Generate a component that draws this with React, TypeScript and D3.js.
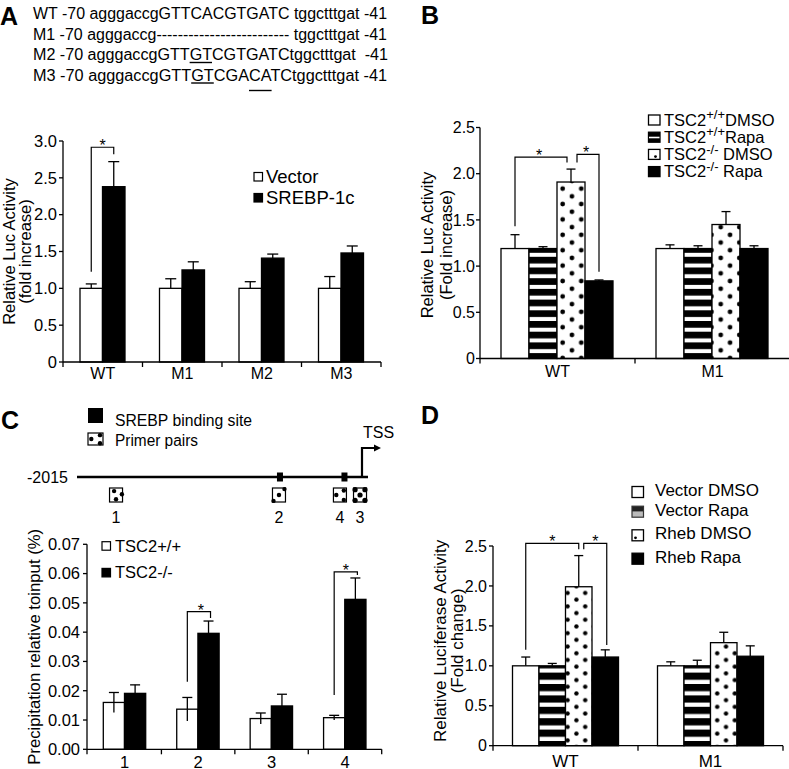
import React from 'react';
import * as d3 from 'd3';

const FONT = '"Liberation Sans", Arial, Helvetica, sans-serif';

// ---------------- Panel A data ----------------
const seqRows = [
  'WT -70 agggaccgGTTCACGTGATC tggctttgat -41',
  'M1 -70 agggaccg------------------------- tggctttgat -41',
  'M2 -70 agggaccgGTTGTCGTGATCtggctttgat  -41',
  'M3 -70 agggaccgGTTGTCGACATCtggctttgat -41',
];
// [row, first char, char count, level]
const seqUnderlines = [
  [2, 18, 2, 0],
  [3, 18, 2, 0],
  [3, 23, 2, 1],
];
const aCategories = ['WT', 'M1', 'M2', 'M3'];
const aSeries = ['Vector', 'SREBP-1c'];
const aVector = [1.0, 1.0, 1.0, 1.0];
const aVectorErr = [0.06, 0.13, 0.09, 0.16];
const aSrebp = [2.38, 1.25, 1.41, 1.48];
const aSrebpErr = [0.34, 0.11, 0.055, 0.095];
const aTicks = [0, 0.5, 1.0, 1.5, 2.0, 2.5, 3.0];

// ---------------- Panel B data ----------------
const bCategories = ['WT', 'M1'];
const bSeriesBase = ['TSC2', 'TSC2', 'TSC2', 'TSC2'];
const bSeriesSup = ['+/+', '+/+', '-/-', '-/-'];
const bSeriesTail = ['DMSO', 'Rapa', ' DMSO', ' Rapa'];
const bWildDmso = [1.19, 1.19];
const bWildRapa = [1.19, 1.19];
const bNullDmso = [1.91, 1.45];
const bNullRapa = [0.84, 1.19];
const bWildDmsoErr = [0.15, 0.04];
const bWildRapaErr = [0.02, 0.03];
const bNullDmsoErr = [0.14, 0.14];
const bNullRapaErr = [0.01, 0.03];
const bTicks = [0, 0.5, 1.0, 1.5, 2.0, 2.5];

// ---------------- Panel C data ----------------
const promoterStart = -2015;
const bindingSites = [-580, -124];
const primerLabels = ['1', '2', '4', '3'];
const primerPositions = [-1739, -587, -156, -14];
const cCategories = ['1', '2', '3', '4'];
const cSeries = ['TSC2+/+', 'TSC2-/-'];
const cWild = [0.0160, 0.0137, 0.0105, 0.0108];
const cWildErr = [0.0034, 0.0040, 0.0019, 0.0008];
const cNull = [0.0191, 0.0396, 0.0148, 0.0512];
const cNullErr = [0.0029, 0.0042, 0.0040, 0.0073];
const cTicks = [0, 0.01, 0.02, 0.03, 0.04, 0.05, 0.06, 0.07];

// ---------------- Panel D data ----------------
const dCategories = ['WT', 'M1'];
const dSeries = ['Vector DMSO', 'Vector Rapa', 'Rheb DMSO', 'Rheb Rapa'];
const dVecDmso = [1.0, 1.0];
const dVecRapa = [1.0, 1.0];
const dRhebDmso = [1.99, 1.29];
const dRhebRapa = [1.11, 1.12];
const dVecDmsoErr = [0.11, 0.05];
const dVecRapaErr = [0.03, 0.07];
const dRhebDmsoErr = [0.39, 0.13];
const dRhebRapaErr = [0.09, 0.13];
const dTicks = [0, 0.5, 1.0, 1.5, 2.0, 2.5];

// ---------------------------------------------------------
const fmt1 = (v: number) => (v === 0 ? '0' : d3.format('.1f')(v));
const fmt2 = d3.format('.2f');

function measure(text: string, size: number) {
  const ctx = document.createElement('canvas').getContext('2d');
  if (!ctx) return text.length * size * 0.55;
  ctx.font = `${size}px "Liberation Sans", Arial, sans-serif`;
  return ctx.measureText(text).width;
}

type Scales = {
  x: d3.ScaleBand<string>;
  xi: d3.ScaleBand<string>;
  y: d3.ScaleLinear<number, number>;
};

function barCenter(s: Scales, cat: string, k: number) {
  return (s.x(cat) as number) + (s.xi(String(k)) as number) + s.xi.bandwidth() / 2;
}

function Axes(props: {
  s: Scales; axisX: number; ticks: number[]; fmt: (v: number) => string;
  fontSize: number; labelGap: number; xLabelY: number; xFont: number;
}) {
  const { s, axisX, ticks, fmt, fontSize, labelGap, xLabelY, xFont } = props;
  const y0 = s.y(0);
  const yTop = s.y(ticks[ticks.length - 1]);
  const [, r1] = s.x.range();
  const bounds = s.x.domain().map((c) => s.x(c) as number).concat([r1]);
  return (
    <g stroke="#000" fill="none" strokeWidth={1.3}>
      <line x1={axisX} x2={axisX} y1={yTop} y2={y0 + 5} />
      <line x1={axisX} x2={r1} y1={y0} y2={y0} />
      {ticks.map((t) => (
        <g key={t}>
          <line x1={axisX - 4} x2={axisX} y1={s.y(t)} y2={s.y(t)} />
          <text x={axisX - labelGap} y={s.y(t)} dy="0.35em" textAnchor="end" stroke="none" fill="#000"
            fontSize={fontSize} fontFamily={FONT}>{fmt(t)}</text>
        </g>
      ))}
      {bounds.filter((b) => Math.abs(b - axisX) > 2).map((b, i) => (
        <line key={i} x1={b} x2={b} y1={y0} y2={y0 + 5} />
      ))}
      {s.x.domain().map((c) => (
        <text key={c} x={(s.x(c) as number) + s.x.bandwidth() / 2} y={xLabelY} textAnchor="middle"
          stroke="none" fill="#000" fontSize={xFont} fontFamily={FONT}>{c}</text>
      ))}
    </g>
  );
}

function BarsLayer(props: {
  s: Scales; series: number[][]; errs: number[][]; fills: string[]; capW: number; lower: boolean;
}) {
  const { s, series, errs, fills, capW, lower } = props;
  const cats = s.x.domain();
  const y0 = s.y(0);
  return (
    <g>
      {series.map((vals, k) =>
        vals.map((v, i) => {
          const cat = cats[i];
          const left = (s.x(cat) as number) + (s.xi(String(k)) as number);
          const w = s.xi.bandwidth();
          const cx = left + w / 2;
          const top = s.y(v);
          const eTop = s.y(v + errs[k][i]);
          const eBot = s.y(v - errs[k][i]);
          return (
            <g key={k + '-' + i}>
              <line x1={cx} x2={cx} y1={lower ? eBot : top} y2={eTop} stroke="#000" strokeWidth={1.3} />
              <line x1={cx - capW} x2={cx + capW} y1={eTop} y2={eTop} stroke="#000" strokeWidth={1.3} />
              {lower && <line x1={cx - capW} x2={cx + capW} y1={eBot} y2={eBot} stroke="#000" strokeWidth={1.3} />}
              <rect x={left} y={top} width={w} height={y0 - top} fill={fills[k]} stroke="#000" strokeWidth={1.3} />
              {lower && fills[k] === '#fff' && (
                <line x1={cx} x2={cx} y1={eBot} y2={top} stroke="#000" strokeWidth={1.3} />
              )}
            </g>
          );
        })
      )}
    </g>
  );
}

function Bracket(props: { x1: number; x2: number; yTop: number; yL: number; yR: number; starDx?: number }) {
  const { x1, x2, yTop, yL, yR } = props;
  const mid = (x1 + x2) / 2 + (props.starDx || 0);
  return (
    <g>
      <path d={`M${x1},${yL}V${yTop}H${x2}V${yR}`} fill="none" stroke="#000" strokeWidth={1.2} />
      <text x={mid} y={yTop + 4} textAnchor="middle" fontSize={16} fontFamily={FONT}>*</text>
    </g>
  );
}

function PanelA() {
  const seqX = 33;
  const seqBase = [19, 39.5, 60, 80.5];
  const seqFont = 16;
  const seqLen = [354, 354, 355, 354];
  const y = d3.scaleLinear().domain([0, 3]).range([362, 141]);
  const x = d3.scaleBand<string>().domain(aCategories).range([63, 381]);
  const xi = d3.scaleBand<string>().domain(['0', '1']).range([17, 62]);
  const s: Scales = { x, xi, y };
  const c0 = barCenter(s, 'WT', 0);
  const c1 = barCenter(s, 'WT', 1);
  return (
    <g>
      <text x={0} y={25} fontSize={25} fontWeight="bold" fontFamily={FONT}>A</text>
      {seqRows.map((r, i) => (
        <text key={i} x={seqX} y={seqBase[i]} fontSize={seqFont} fontFamily={FONT}
          textLength={seqLen[i]} lengthAdjust="spacingAndGlyphs" style={{ whiteSpace: 'pre' }}>{r}</text>
      ))}
      {seqUnderlines.map(([row, start, len, level], i) => {
        const text = seqRows[row];
        const full = measure(text, seqFont);
        const k = seqLen[row] / full;
        const xa = seqX + measure(text.slice(0, start), seqFont) * k;
        const xb = seqX + measure(text.slice(0, start + len), seqFont) * k;
        const yy = seqBase[row] + (level ? 10 : 2.5);
        return <line key={i} x1={xa} x2={xb} y1={yy} y2={yy} stroke="#000" strokeWidth={1.4} />;
      })}
      <text transform={`translate(15,${(y(0) + y(3)) / 2}) rotate(-90)`} textAnchor="middle" fontSize={16.5} fontFamily={FONT}>Relative Luc Activity</text>
      <text transform={`translate(31,${(y(0) + y(3)) / 2}) rotate(-90)`} textAnchor="middle" fontSize={16.5} fontFamily={FONT}>(fold increase)</text>
      <BarsLayer s={s} series={[aVector, aSrebp]} errs={[aVectorErr, aSrebpErr]} fills={['#fff', '#000']} capW={5.5} lower={false} />
      <Axes s={s} axisX={63} ticks={aTicks} fmt={fmt1} fontSize={16.5} labelGap={6} xLabelY={379} xFont={16} />
      <Bracket x1={c0} x2={c1} yTop={y(2.915)} yL={y(1.225)} yR={y(2.82)} />
      {aSeries.map((n, k) => (
        <g key={n}>
          <rect x={254} y={172.5 + k * 21} width={8.5} height={8.5} fill={k ? '#000' : '#fff'} stroke="#000" strokeWidth={1.2} />
          <text x={266} y={176.7 + k * 21} dy="0.35em" fontSize={18.5} fontFamily={FONT}>{n}</text>
        </g>
      ))}
    </g>
  );
}

function PanelB() {
  const y = d3.scaleLinear().domain([0, 2.5]).range([358.5, 127.5]);
  const x = d3.scaleBand<string>().domain(bCategories).range([480, 790]);
  const xi = d3.scaleBand<string>().domain(['0', '1', '2', '3']).range([21, 133]);
  const s: Scales = { x, xi, y };
  const fills = ['#fff', 'url(#stripeB)', 'url(#dotB)', '#000'];
  const c0 = barCenter(s, 'WT', 0);
  const c2 = barCenter(s, 'WT', 2);
  const c3 = barCenter(s, 'WT', 3);
  const mid = (y(0) + y(2.5)) / 2;
  return (
    <g>
      <text x={421} y={24} fontSize={25} fontWeight="bold" fontFamily={FONT}>B</text>
      <text transform={`translate(433,${mid + 2}) rotate(-90)`} textAnchor="middle" fontSize={16.5} fontFamily={FONT}>Relative Luc Activity</text>
      <text transform={`translate(452,${mid + 2}) rotate(-90)`} textAnchor="middle" fontSize={16.5} fontFamily={FONT}>(Fold increase)</text>
      <BarsLayer s={s} series={[bWildDmso, bWildRapa, bNullDmso, bNullRapa]}
        errs={[bWildDmsoErr, bWildRapaErr, bNullDmsoErr, bNullRapaErr]} fills={fills} capW={4.5} lower={false} />
      <Axes s={s} axisX={480} ticks={bTicks} fmt={fmt1} fontSize={16} labelGap={5} xLabelY={377} xFont={16} />
      <Bracket x1={c0} x2={c2 - 4} yTop={y(2.18)} yL={y(1.43)} yR={y(2.12)} starDx={-2} />
      <Bracket x1={c2 + 6} x2={c3} yTop={y(2.21)} yL={y(2.12)} yR={y(0.94)} starDx={-2} />
      {bSeriesBase.map((b, k) => {
        const yy = 120 + k * 17.2;
        return (
          <g key={k}>
            <rect x={648.5} y={yy - 5} width={11.5} height={10} fill={k === 3 ? '#000' : '#fff'} stroke="#000" strokeWidth={1.3} />
            {k === 1 && (<g><rect x={648.5} y={yy - 5} width={11.5} height={10} fill="#000" /><line x1={649} x2={659.5} y1={yy + 0.3} y2={yy + 0.3} stroke="#fff" strokeWidth={1.6} /></g>)}
            {k === 2 && <circle cx={655.5} cy={yy + 2.2} r={1.4} fill="#000" />}
            <text x={664} y={yy} dy="0.35em" fontSize={16.5} fontFamily={FONT}>
              {b}
              <tspan dy="-6.5" fontSize={13}>{bSeriesSup[k]}</tspan>
              <tspan dy="6.5" style={{ whiteSpace: 'pre' }}>{bSeriesTail[k]}</tspan>
            </text>
          </g>
        );
      })}
    </g>
  );
}

function PrimerBox(props: { cx: number; y: number; w: number; h: number; kind: number }) {
  const { cx, y, w, h, kind } = props;
  const x0 = cx - w / 2;
  const layouts = [
    [[0.35, 0.22], [0.5, 0.8], [0.95, 0.45]],
    [[0.5, 0.5], [0.08, 0.92], [0.92, 0.08]],
    [[0.22, 0.5], [0.8, 0.18], [0.8, 0.85]],
    [[0.12, 0.12], [0.88, 0.12], [0.12, 0.88], [0.88, 0.88], [0.5, 0.5]],
  ];
  return (
    <g>
      <rect x={x0} y={y} width={w} height={h} fill="#fff" stroke="#000" strokeWidth={1.2} />
      {layouts[kind].map(([px, py], i) => (
        <circle key={i} cx={x0 + px * w} cy={y + py * h} r={kind === 3 ? 2.6 : 2.2} fill="#000" />
      ))}
    </g>
  );
}

function PanelC() {
  const pos = d3.scaleLinear().domain([promoterStart, 0]).range([77, 362]);
  const lineY = 477;
  const y = d3.scaleLinear().domain([0, 0.07]).range([749.3, 544.3]);
  const x = d3.scaleBand<string>().domain(cCategories).range([88, 381.7]);
  const xi = d3.scaleBand<string>().domain(['0', '1']).range([15.3, 57.7]);
  const s: Scales = { x, xi, y };
  const kinds = [0, 1, 2, 3];
  const mid = (y(0) + y(0.07)) / 2;
  return (
    <g>
      <text x={1} y={429} fontSize={25} fontWeight="bold" fontFamily={FONT}>C</text>
      <rect x={88} y={408} width={15} height={15} fill="#000" />
      <text x={115} y={420} dy="0.35em" fontSize={16} fontFamily={FONT} textLength={137} lengthAdjust="spacingAndGlyphs">SREBP binding site</text>
      <PrimerBox cx={95.5} y={433} w={15} h={12} kind={2} />
      <text x={115} y={440} dy="0.35em" fontSize={16} fontFamily={FONT} textLength={83} lengthAdjust="spacingAndGlyphs">Primer pairs</text>
      <text x={27} y={lineY} dy="0.35em" fontSize={16} fontFamily={FONT}>{String(promoterStart)}</text>
      <line x1={pos(promoterStart)} x2={pos(0) + 6} y1={lineY} y2={lineY} stroke="#000" strokeWidth={2.7} />
      {bindingSites.map((b, i) => (
        <rect key={i} x={pos(b) - 3} y={lineY - 4.5} width={6} height={9} fill="#000" />
      ))}
      <path d={`M${pos(0)},${lineY}V448H376`} fill="none" stroke="#000" strokeWidth={2.2} />
      <path d={`M374,444.5L381,448L374,451.5Z`} fill="#000" />
      <text x={363} y={438} fontSize={16} fontFamily={FONT}>TSS</text>
      {primerPositions.map((p, i) => (
        <g key={i}>
          <PrimerBox cx={pos(p)} y={488} w={13} h={14} kind={kinds[i]} />
          <text x={pos(p)} y={523} textAnchor="middle" fontSize={16} fontFamily={FONT}>{primerLabels[i]}</text>
        </g>
      ))}
      <text transform={`translate(40,${mid}) rotate(-90)`} textAnchor="middle" fontSize={17} fontFamily={FONT}
        textLength={236} lengthAdjust="spacingAndGlyphs">Precipitation relative toinput (%)</text>
      <BarsLayer s={s} series={[cWild, cNull]} errs={[cWildErr, cNullErr]} fills={['#fff', '#000']} capW={5} lower={true} />
      <Axes s={s} axisX={87} ticks={cTicks} fmt={fmt2} fontSize={16.5} labelGap={7} xLabelY={767.5} xFont={16.5} />
      <Bracket x1={barCenter(s, '2', 0)} x2={barCenter(s, '2', 1) + 2} yTop={y(0.047)} yL={y(0.0231)} yR={y(0.0448)} starDx={2} />
      <Bracket x1={barCenter(s, '4', 0)} x2={barCenter(s, '4', 1) + 2} yTop={y(0.0606)} yL={y(0.0185)} yR={y(0.0595)} />
      {cSeries.map((n, k) => (
        <g key={n}>
          <rect x={102} y={541.7 + k * 26.7} width={8.5} height={8.5} fill={k ? '#000' : '#fff'} stroke="#000" strokeWidth={1.2} />
          <text x={115} y={546 + k * 26.7} dy="0.35em" fontSize={16.5} fontFamily={FONT}>{n}</text>
        </g>
      ))}
    </g>
  );
}

function PanelD() {
  const y = d3.scaleLinear().domain([0, 2.5]).range([745.7, 546]);
  const x = d3.scaleBand<string>().domain(dCategories).range([493, 783]);
  const xi = d3.scaleBand<string>().domain(['0', '1', '2', '3']).range([19.5, 125.5]);
  const s: Scales = { x, xi, y };
  const fills = ['#fff', 'url(#stripeD)', 'url(#dotD)', '#000'];
  const c0 = barCenter(s, 'WT', 0);
  const c2 = barCenter(s, 'WT', 2);
  const c3 = barCenter(s, 'WT', 3);
  const mid = (y(0) + y(2.5)) / 2;
  const legendY = [492, 511.7, 535.3, 558.7];
  return (
    <g>
      <text x={421} y={424} fontSize={25} fontWeight="bold" fontFamily={FONT}>D</text>
      <text transform={`translate(446,${mid - 5}) rotate(-90)`} textAnchor="middle" fontSize={17} fontFamily={FONT}>Relative Luciferase Activity</text>
      <text transform={`translate(463,${mid - 5}) rotate(-90)`} textAnchor="middle" fontSize={17} fontFamily={FONT}>(Fold change)</text>
      <BarsLayer s={s} series={[dVecDmso, dVecRapa, dRhebDmso, dRhebRapa]}
        errs={[dVecDmsoErr, dVecRapaErr, dRhebDmsoErr, dRhebRapaErr]} fills={fills} capW={4.5} lower={false} />
      <Axes s={s} axisX={493} ticks={dTicks} fmt={fmt1} fontSize={16} labelGap={6} xLabelY={766.5} xFont={17} />
      <Bracket x1={c0} x2={c2} yTop={y(2.533)} yL={y(1.2)} yR={y(2.458)} />
      <Bracket x1={c2 + 5} x2={c3 + 1.5} yTop={y(2.533)} yL={y(2.458)} yR={y(1.26)} />
      {dSeries.map((n, k) => {
        const yy = legendY[k];
        return (
          <g key={n}>
            {k === 1 ? (
              <g>
                <rect x={632} y={yy - 5.5} width={11.5} height={5.5} fill="#222" />
                <rect x={632} y={yy} width={11.5} height={5.5} fill="#bbb" />
                <rect x={632} y={yy - 5.5} width={11.5} height={11} fill="none" stroke="#333" strokeWidth={1.2} />
              </g>
            ) : (
              <rect x={632} y={yy - 5.5} width={11.5} height={11} fill={k === 3 ? '#000' : '#fff'} stroke="#000" strokeWidth={1.3} />
            )}
            {k === 2 && <circle cx={635.5} cy={yy + 2.5} r={1.4} fill="#000" />}
            <text x={655} y={yy - 2} dy="0.35em" fontSize={17} fontFamily={FONT}>{n}</text>
          </g>
        );
      })}
    </g>
  );
}

export default function App() {
  return (
    <svg width={789} height={769} viewBox="0 0 789 769"
      style={{ position: 'absolute', left: 0, top: 0, background: '#fff', display: 'block' }}
      fontFamily={FONT}>
      <defs>
        <pattern id="stripeB" patternUnits="userSpaceOnUse" width={10} height={10.7}>
          <rect width={10} height={10.7} fill="#fff" />
          <rect width={10} height={6.7} fill="#000" />
        </pattern>
        <pattern id="stripeD" patternUnits="userSpaceOnUse" width={10} height={11.4}>
          <rect width={10} height={11.4} fill="#fff" />
          <rect width={10} height={7.2} fill="#000" />
        </pattern>
        <pattern id="dotB" patternUnits="userSpaceOnUse" width={18.6} height={15.4}>
          <rect width={18.6} height={15.4} fill="#fff" />
          <circle cx={4.65} cy={3.85} r={2.4} fill="#000" />
          <circle cx={13.95} cy={11.55} r={2.4} fill="#000" />
        </pattern>
        <pattern id="dotD" patternUnits="userSpaceOnUse" width={17.6} height={13.4}>
          <rect width={17.6} height={13.4} fill="#fff" />
          <circle cx={4.4} cy={3.35} r={2.2} fill="#000" />
          <circle cx={13.2} cy={10.05} r={2.2} fill="#000" />
        </pattern>
      </defs>
      <rect width={789} height={769} fill="#fff" />
      <PanelA />
      <PanelB />
      <PanelC />
      <PanelD />
    </svg>
  );
}
